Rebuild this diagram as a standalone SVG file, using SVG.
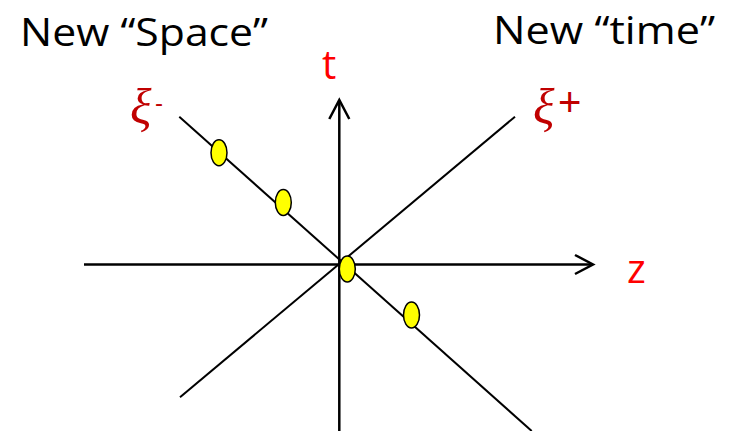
<svg xmlns="http://www.w3.org/2000/svg" width="734" height="431" viewBox="0 0 734 431">
<style>
.title{font-family:"Open Sans","Liberation Sans",sans-serif;font-size:39px;fill:#000}
.axislbl{font-family:"Open Sans","Liberation Sans",sans-serif;font-size:40px;fill:#ff0000}
.greek{font-family:"Liberation Serif","DejaVu Serif",serif;font-style:italic;font-size:50px;fill:#c00000}
.sup{font-family:"Liberation Sans",Arial,sans-serif;fill:#c00000}
.axis{stroke:#000;stroke-width:2.5;fill:none}
.diag{stroke:#000;stroke-width:2;fill:none}
.pt{fill:#ffff00;stroke:#000;stroke-width:1.5}
</style>
<rect width="734" height="431" fill="#fff"/>
<g id="connectors">
<line class="diag" x1="179.3" y1="116.7" x2="531.7" y2="431"/>
<line class="diag" x1="180" y1="397.3" x2="515" y2="116.7"/>
<line class="axis" x1="84" y1="264.5" x2="592" y2="264.5"/>
<polyline class="axis" points="575,255 593,264.5 575,274"/>
<line class="axis" x1="339.3" y1="431" x2="339.3" y2="101"/>
<polyline class="axis" points="329.3,119 339.3,100 349.3,119"/>
</g>
<g id="title-space"><text class="title" x="20" y="45.5" textLength="248" lengthAdjust="spacingAndGlyphs">New “Space”</text></g>
<g id="title-time"><text class="title" x="493" y="43.5" textLength="222" lengthAdjust="spacingAndGlyphs">New “time”</text></g>
<g id="label-t"><text class="axislbl" x="322" y="79">t</text></g>
<g id="label-z"><text class="axislbl" x="627" y="283">z</text></g>
<g id="label-xi-minus"><text class="greek" x="130" y="124">ξ</text><text class="sup" x="155" y="111" font-size="24">-</text></g>
<g id="label-xi-plus"><text class="greek" x="533" y="124">ξ</text><text class="sup" x="558" y="116" font-size="40">+</text></g>
<g id="point-1"><ellipse class="pt" cx="219" cy="152.7" rx="8" ry="13"/></g>
<g id="point-2"><ellipse class="pt" cx="283.3" cy="202.5" rx="8" ry="13"/></g>
<g id="point-3"><ellipse class="pt" cx="347.3" cy="269" rx="8" ry="13"/></g>
<g id="point-4"><ellipse class="pt" cx="411.5" cy="315" rx="8" ry="13"/></g>
</svg>
